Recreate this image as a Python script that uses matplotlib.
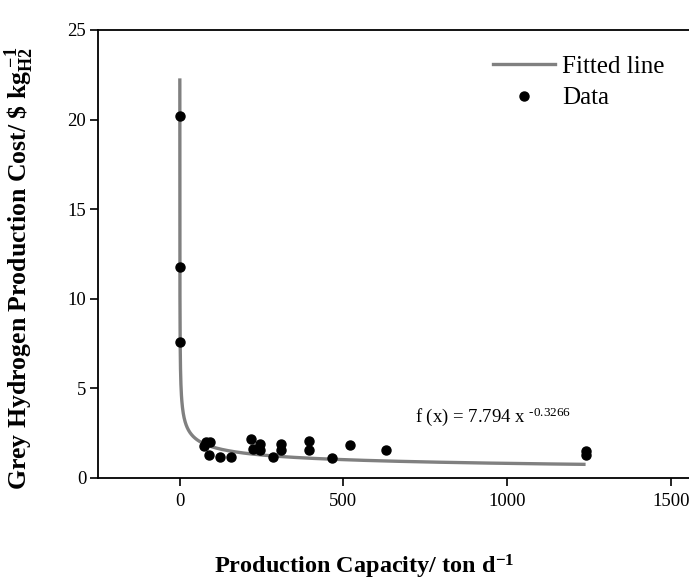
import numpy as np
import matplotlib
matplotlib.use("Agg")
import matplotlib.pyplot as plt
from matplotlib.lines import Line2D

plt.rcParams['font.family'] = ['Liberation Serif', 'DejaVu Serif']
plt.rcParams['mathtext.fontset'] = 'custom'
plt.rcParams['mathtext.rm'] = 'Liberation Serif'
plt.rcParams['mathtext.it'] = 'Liberation Serif:italic'
plt.rcParams['mathtext.bf'] = 'Liberation Serif:bold'

# Data
capacity = [0.05, 0.5, 2.0, 73, 81, 88, 91, 123, 155, 218, 225, 246, 246, 284,
            309, 309, 394, 394, 464, 520, 629, 1240, 1240]
cost = [20.2, 11.8, 7.6, 1.78, 2.0, 1.29, 2.03, 1.15, 1.15, 2.2, 1.61, 1.87, 1.56,
        1.17, 1.87, 1.56, 2.06, 1.56, 1.12, 1.82, 1.56, 1.52, 1.28]
fit_a = 7.794
fit_b = -0.3266
fit_x = np.concatenate([np.geomspace(0.04, 5, 300), np.linspace(5, 1240, 2000)[1:]])
fit_y = fit_a * fit_x ** fit_b

xticks = [0, 500, 1000, 1500]
yticks = [0, 5, 10, 15, 20, 25]

fig = plt.figure(figsize=(6.89, 5.88), dpi=100)
ax = fig.add_axes([98/689, 1 - 478/588, 1 - 98/689, (478 - 30)/588])

ax.plot(fit_x, fit_y, color='#808080', lw=2.4, solid_capstyle='butt', zorder=2)
ax.plot(capacity, cost, 'o', color='black', ms=6.5, zorder=3)

ax.set_xlim(-250, 1556)
ax.set_ylim(0, 25)
ax.set_xticks(xticks)
ax.set_yticks(yticks)
ax.tick_params(direction='out', length=5.5, width=1.2, labelsize=13.5, pad=3)
ax.tick_params(axis='x', pad=5)
for s in ['left', 'bottom', 'top']:
    ax.spines[s].set_linewidth(1.3)
ax.spines['right'].set_visible(False)

ax.set_xlabel(r'Production Capacity/ ton d$^{\mathbf{-1}}$', fontsize=17.5, fontweight='bold')
ax.xaxis.set_label_coords((364 - 98) / 591, (478 - 553) / 448)
ax.set_ylabel(r'Grey Hydrogen Production Cost/ \$ kg$_{\mathbf{H2}}^{\ \mathbf{-1}}$', fontsize=18.5,
              fontweight='bold')
ax.yaxis.set_label_coords((36 - 98) / 591, (478 - 268) / 448)

ax.text(718, 3.4, r'f (x) = 7.794 x $^{\text{-0.3266}}$', fontsize=13.5, ha='left', va='center')

handles = [Line2D([], [], color='#808080', lw=2.4),
           Line2D([], [], ls='none', marker='o', color='black', ms=6.5)]
leg = ax.legend(handles, ['Fitted line', 'Data'], loc='upper right', frameon=False,
                fontsize=18, handlelength=2.5, handletextpad=0.25, borderaxespad=0.0,
                labelspacing=0.35, bbox_to_anchor=(0.975, 0.965))

fig.savefig('out.png', dpi=100)
